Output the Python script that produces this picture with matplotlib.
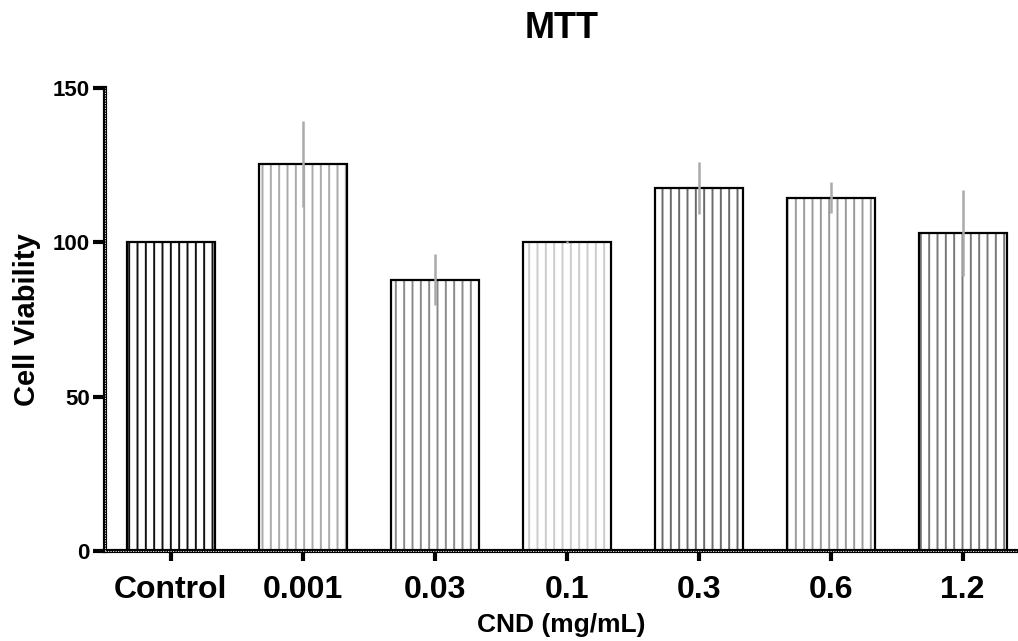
import numpy as np
import matplotlib
matplotlib.use("Agg")
import matplotlib.pyplot as plt

plt.rcParams["font.family"] = ["Liberation Sans", "DejaVu Sans"]
plt.rcParams["font.weight"] = "bold"
plt.rcParams["hatch.linewidth"] = 1.4

# ── data ─────────────────────────────────────────────────────────────────────
groups = ["Control", "0.001", "0.03", "0.1", "0.3", "0.6", "1.2"]
viability = [100.0, 125.4, 87.9, 100.1, 117.5, 114.5, 103.0]
sd = [0.0, 13.9, 8.3, 0.4, 8.4, 5.0, 13.9]
hatch_colors = ["#111111", "#aaaaaa", "#8a8a8a", "#cccccc", "#6a6a6a", "#9a9a9a", "#777777"]

x = np.arange(len(groups))
W = 0.667

fig = plt.figure(figsize=(10.18, 6.41), dpi=100)
ax = fig.add_axes([0.1031, 0.1404, 0.8969, 0.7223])

# hatched fill (hatch takes the edge colour), then the black outline on top
for xi, v, hc in zip(x, viability, hatch_colors):
    ax.bar(xi, v, W, facecolor="white", edgecolor=hc, hatch="||", linewidth=0, zorder=2)
ax.bar(x, viability, W, fill=False, edgecolor="black", linewidth=1.6, zorder=3)
ax.errorbar(x, viability, yerr=sd, fmt="none", ecolor="#aaaaaa", elinewidth=1.8,
            capsize=0, zorder=4)

ax.set_xlim(-0.5, 6.42)
ax.set_ylim(0, 150)
ax.set_yticks([0, 50, 100, 150])
ax.set_xticks(x)
ax.set_xticklabels(groups, fontsize=23, fontweight="bold")
ax.set_yticklabels(["0", "50", "100", "150"], fontsize=16, fontweight="bold")
ax.tick_params(axis="y", length=9, width=3, pad=2)
ax.tick_params(axis="x", length=7, width=3, pad=10)

for s in ("top", "right"):
    ax.spines[s].set_visible(False)
for s in ("left", "bottom"):
    ax.spines[s].set_linewidth(3)

# ruler-like notches on the axis lines
ax.plot([-0.5, 6.42], [0, 0], color="white", lw=0.6, ls=(0, (1.5, 1.5)),
        clip_on=False, zorder=5)
ax.plot([-0.5, -0.5], [0, 150], color="white", lw=0.6, ls=(0, (1.5, 1.5)),
        clip_on=False, zorder=5)

ax.set_ylabel("Cell Viability", fontsize=21, fontweight="bold", labelpad=8)
ax.set_xlabel("CND (mg/mL)", fontsize=19, fontweight="bold", labelpad=6)
ax.set_title("MTT", fontsize=26, fontweight="bold", pad=36)

fig.savefig("out.png", dpi=100)
